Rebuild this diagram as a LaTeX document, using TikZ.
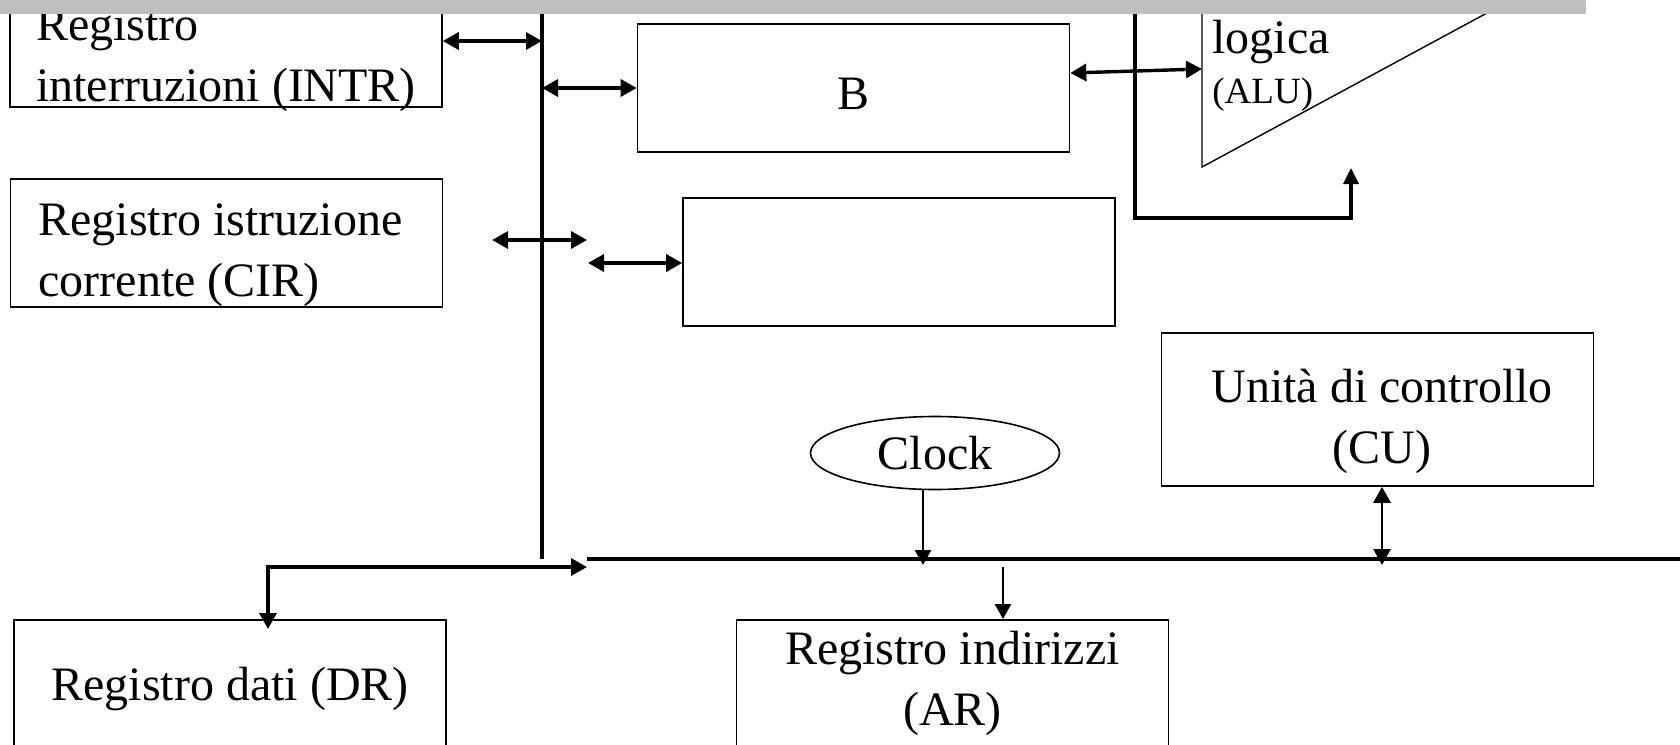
\documentclass[tikz,border=0pt]{standalone}
\usepackage{fontspec}
\setmainfont{Liberation Serif}
\usepackage{tikz}
\usetikzlibrary{arrows.meta,shapes.geometric}

\begin{document}
\begin{tikzpicture}[x=0.5pt,y=-0.5pt,
    reg/.style={draw,line width=0.8pt,inner sep=0pt,minimum width=216pt,font=\fontsize{24pt}{30.5pt}\selectfont},
    bus/.style={line width=1.8pt},
    link/.style={line width=1.7pt,{Triangle[length=8pt,width=8.5pt]}-{Triangle[length=8pt,width=8.5pt]}},
    tolink/.style={line width=1.4pt,-{Triangle[length=7.5pt,width=8pt]}}]
  \useasboundingbox (0,0) rectangle (1680,744);

  \node[reg,minimum height=52pt,align=left,text height=49pt,text depth=3pt] (intr) at (226,55) {Registro\\interruzioni (INTR)};
  \node[reg,minimum height=64pt,align=left,text height=58pt,text depth=5pt] (cir) at (226.5,243) {Registro istruzione\hspace*{6pt}\\corrente (CIR)};
  \node[reg,minimum height=64pt,text height=21pt,text depth=0pt] (b) at (853.5,88) {B};
  \node[reg,minimum height=64pt] (emp) at (899,262) {};
  \node[reg,minimum height=76.5pt,align=center,text height=58.5pt,text depth=5pt] (cu) at (1377.5,409.5) {\hspace*{4.5pt}Unità di controllo\\\hspace*{4.5pt}(CU)};
  \node[reg,ellipse,minimum width=124.5pt,minimum height=36.5pt] (clock) at (935,453) {Clock};
  \node[reg,anchor=north,text height=40.5pt,text depth=40pt] (dr) at (230,619) {Registro dati (DR)};
  \node[reg,anchor=north,align=center,text height=53pt,text depth=37.5pt] (ar) at (952.5,619) {Registro indirizzi\\(AR)};

  \draw[line width=0.7pt] (1202,0) -- (1202,167) -- (1511,0);
  \node[anchor=base west,inner sep=0pt,font=\fontsize{24pt}{30pt}\selectfont] (logica) at (1212,53) {logica};
  \node[anchor=base west,inner sep=0pt,font=\fontsize{18.5pt}{22pt}\selectfont] (alu) at (1212,103) {(ALU)};

  \coordinate (vtop) at (542,0);
  \coordinate (vbot) at (542,559);
  \coordinate (hleft) at (587,559);
  \coordinate (hright) at (1680,559);
  \coordinate (aluin) at (1202,69);
  \coordinate (fbtop) at (1135,0);
  \coordinate (aluout) at (1351,168);
  \coordinate (cirl) at (492,240);
  \coordinate (cirr) at (587,240);
  \coordinate (empl) at (588,263);
  \coordinate (clk) at (923,565);
  \coordinate (arbus) at (1003,567);
  \coordinate (cubus) at (1382,565);

  \draw[bus] (vtop) -- (vbot);
  \draw[bus] (hleft) -- (hright);

  \draw[link] (intr.east |- 0,41) -- (vtop |- 0,41);
  \draw[link] (vtop |- b.west) -- (b.west);
  \draw[link] (b.east |- 0,73) -- (aluin);
  \draw[line width=1.7pt,-{Triangle[length=8pt,width=7.5pt]}] (fbtop) -- (1135,218) -| (aluout);
  \draw[link] (cirl) -- (cirr);
  \draw[link] (empl) -- (emp.west |- empl);
  \draw[link,shorten <=-5pt] (dr.north -| 268,0) |- (hleft |- 0,567);
  \draw[tolink] (clock.south -| clk) -- (clk);
  \draw[tolink] (arbus) -- (ar.north -| arbus);
  \draw[link,line width=1.4pt] (cu.south -| cubus) -- (cubus);

  \fill[gray!50] (0,0) rectangle (1586,14);
\end{tikzpicture}
\end{document}
